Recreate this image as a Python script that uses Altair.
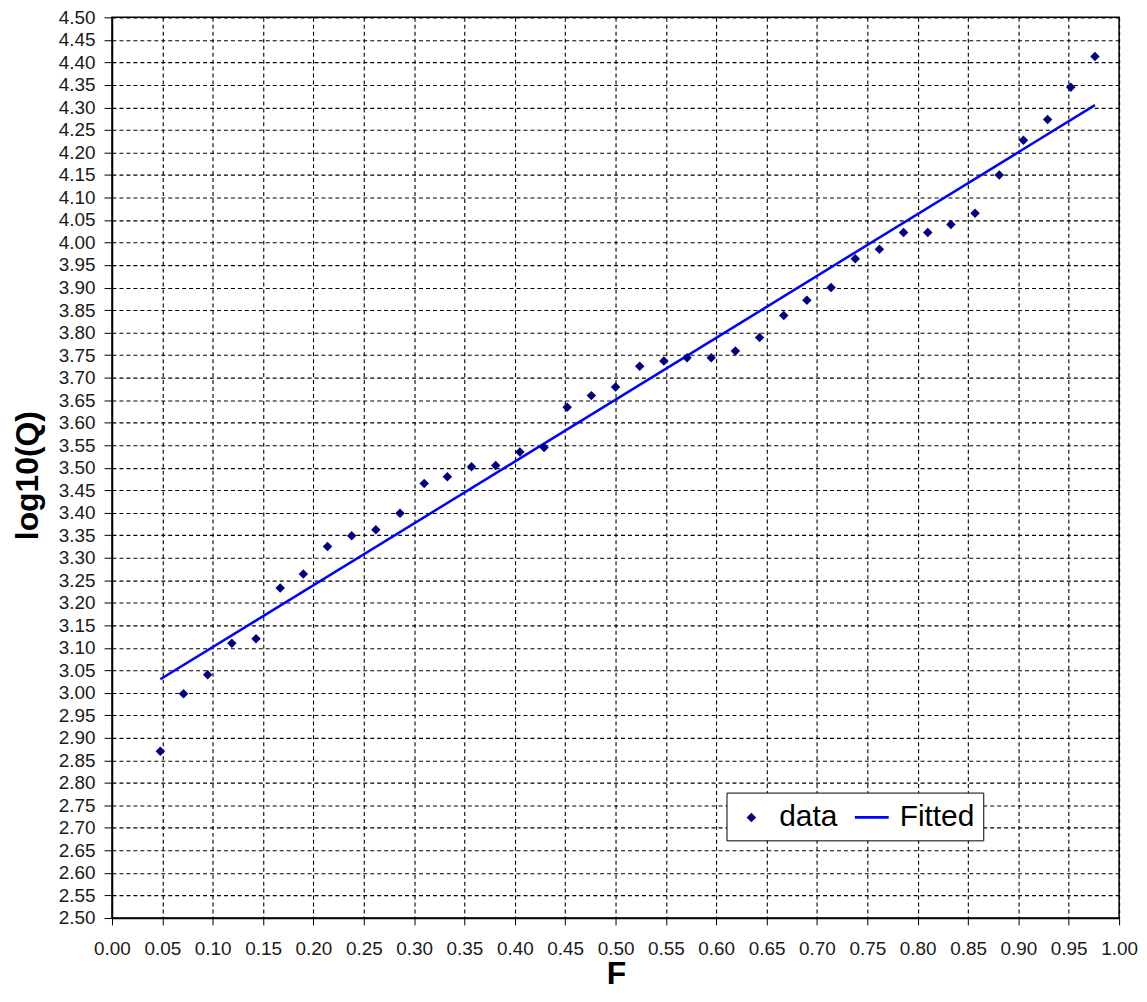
import altair as alt
import pandas as pd

F_values = [0.048, 0.071, 0.095, 0.119, 0.143, 0.167, 0.190, 0.214, 0.238, 0.262,
            0.286, 0.310, 0.333, 0.357, 0.381, 0.405, 0.429, 0.452, 0.476, 0.500,
            0.524, 0.548, 0.571, 0.595, 0.619, 0.643, 0.667, 0.690, 0.714, 0.738,
            0.762, 0.786, 0.810, 0.833, 0.857, 0.881, 0.905, 0.929, 0.952, 0.976]
logQ_values = [2.870, 2.998, 3.040, 3.110, 3.120, 3.233, 3.264, 3.325, 3.349, 3.362,
               3.399, 3.465, 3.480, 3.502, 3.505, 3.535, 3.545, 3.634, 3.660, 3.679,
               3.725, 3.737, 3.744, 3.744, 3.759, 3.789, 3.838, 3.872, 3.900, 3.964,
               3.985, 4.022, 4.022, 4.040, 4.065, 4.150, 4.227, 4.273, 4.345, 4.413]
fit_F = [0.048, 0.976]
fit_logQ = [3.030, 4.305]
series_names = ["data", "Fitted"]
series_colors = ["#000080", "#0000FF"]

x_ticks = [0.00, 0.05, 0.10, 0.15, 0.20, 0.25, 0.30, 0.35, 0.40, 0.45, 0.50,
           0.55, 0.60, 0.65, 0.70, 0.75, 0.80, 0.85, 0.90, 0.95, 1.00]
y_ticks = [2.50, 2.55, 2.60, 2.65, 2.70, 2.75, 2.80, 2.85, 2.90, 2.95, 3.00,
           3.05, 3.10, 3.15, 3.20, 3.25, 3.30, 3.35, 3.40, 3.45, 3.50,
           3.55, 3.60, 3.65, 3.70, 3.75, 3.80, 3.85, 3.90, 3.95, 4.00,
           4.05, 4.10, 4.15, 4.20, 4.25, 4.30, 4.35, 4.40, 4.45, 4.50]

data_df = pd.DataFrame({"F": F_values, "logQ": logQ_values, "series": "data"})
fit_df = pd.DataFrame({"F": fit_F, "logQ": fit_logQ})

DIAMOND = "M0,-0.28L0.28,0L0,0.28L-0.28,0Z"
STROKE = "M-1,-0.08L1,-0.08L1,0.08L-1,0.08Z"

FONT = "Liberation Sans, Arial, sans-serif"

common_axis = dict(
    format=".2f", labelFont=FONT, labelFontSize=19, labelColor="#1a1a1a",
    labelFlush=False, labelOverlap=False, labelBound=False,
    tickColor="black", tickWidth=1, domainColor="black", domainWidth=1.5,
    grid=True, gridColor="black", gridDash=[4, 3], gridWidth=1.1, gridOpacity=1,
    titleFont=FONT, titleFontWeight="bold", titleColor="black",
)

x_axis = alt.Axis(values=x_ticks, title="F", tickSize=7, labelPadding=15,
                  titleFontSize=32, titleX=506.5, titleY=66, titleBaseline="alphabetic",
                  titleAlign="center", **common_axis)
y_axis = alt.Axis(values=y_ticks, title="log10(Q)", tickSize=8, labelPadding=9,
                  titleFontSize=32, titleX=-85, titleY=460, titleAngle=-90,
                  titleBaseline="middle", titleAlign="center", **common_axis)

x_scale = alt.Scale(domain=[0, 1], nice=False, zero=False)
y_scale = alt.Scale(domain=[2.5, 4.5], nice=False, zero=False)

legend = alt.Legend(
    title=None, orient="none", legendX=617.5, legendY=779, direction="horizontal",
    padding=8, fillColor="white", strokeColor="black",
    symbolSize=1156, labelFont=FONT, labelFontSize=30, labelColor="black",
    labelOffset=11, columnPadding=17, symbolStrokeWidth=0,
)

line = alt.Chart(fit_df).mark_line(color="#0000FF", strokeWidth=2.5).encode(
    x=alt.X("F:Q", scale=x_scale, axis=x_axis),
    y=alt.Y("logQ:Q", scale=y_scale, axis=y_axis),
)

points = alt.Chart(data_df).mark_point(filled=True, size=1156, opacity=1, strokeWidth=0).encode(
    x=alt.X("F:Q", scale=x_scale, axis=x_axis),
    y=alt.Y("logQ:Q", scale=y_scale, axis=y_axis),
    color=alt.Color("series:N", scale=alt.Scale(domain=series_names, range=series_colors), legend=legend),
    shape=alt.Shape("series:N", scale=alt.Scale(domain=series_names, range=[DIAMOND, STROKE]), legend=legend),
)

chart = alt.layer(line, points).properties(
    width=1012, height=905,
    autosize=alt.AutoSizeParams(type="none"),
    padding={"left": 104.5, "top": 7, "right": 20, "bottom": 74},
    background="white",
).configure_view(stroke="black", strokeWidth=1.5)

chart.save("out.html", embed_options={"renderer": "svg", "actions": False})
